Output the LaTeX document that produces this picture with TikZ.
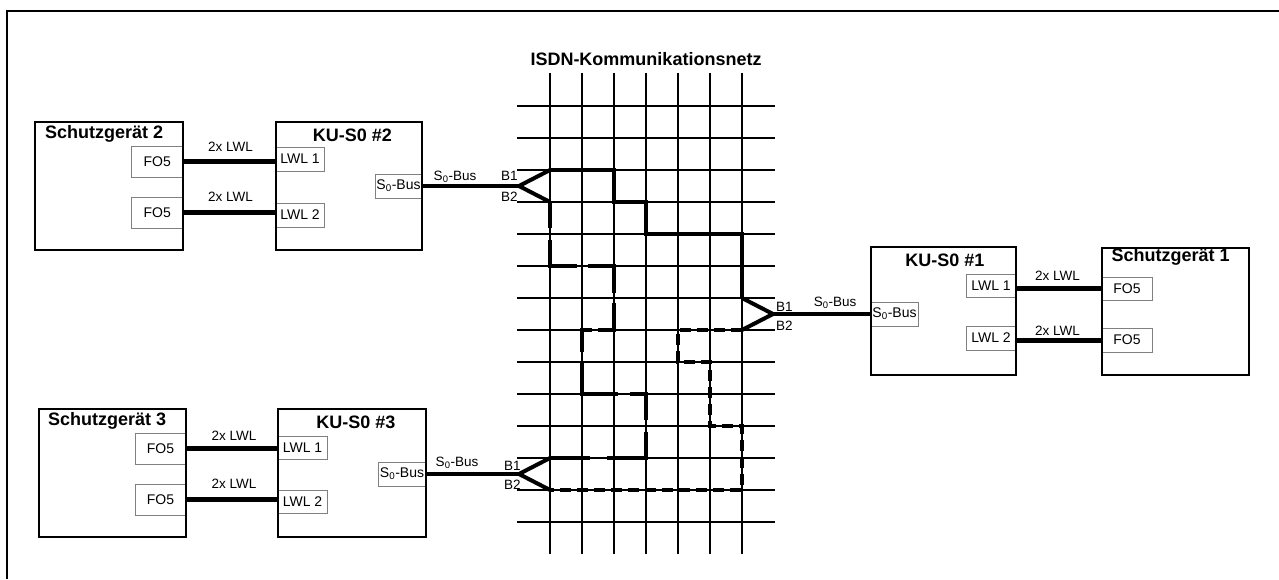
\documentclass[tikz,border=0pt]{standalone}
\usepackage{fontspec}
\setmainfont{Liberation Sans}
\definecolor{portgray}{RGB}{128,128,128}
\tikzset{
  dev/.style={draw=black, line width=1.8pt, inner sep=0pt},
  port/.style={draw=portgray, line width=1pt, inner sep=0pt, font=\fontsize{14}{16}\selectfont},
  ttl/.style={font=\bfseries\fontsize{18}{21}\selectfont, inner sep=0pt},
  lbl/.style={font=\fontsize{13.5}{16}\selectfont, inner sep=0pt},
  lwlline/.style={line width=5pt},
  busline/.style={line width=4pt},
  netline/.style={line width=1.8pt},
  route/.style={line width=4pt, line join=miter},
}
\begin{document}
\begin{tikzpicture}[x=1pt,y=-1pt]
\useasboundingbox (0,0) rectangle (1279,579);
\draw[line width=1.4pt] (7,579) -- (7,11) -- (1279,11);

% network grid
\foreach \j in {0,...,13} \draw[netline] ({517},{106+32*\j}) -- ({775},{106+32*\j});
\foreach \i in {0,...,6} \draw[netline] ({550+32*\i},{73}) -- ({550+32*\i},{554});
\foreach \i in {0,...,6} \foreach \j in {0,...,13} \coordinate (g\i-\j) at ({550+32*\i},{106+32*\j});
\node[ttl, anchor=base] (net) at (646,65) {ISDN-Kommunikationsnetz};

% ports
\node[port, minimum width=51pt, minimum height=31pt] (fo2a) at (157.3,161.5) {FO5};
\node[port, minimum width=51pt, minimum height=31pt] (fo2b) at (157.3,212.5) {FO5};
\node[port, minimum width=48pt, minimum height=24pt] (l1k2) at (300,159) {LWL 1};
\node[port, minimum width=48pt, minimum height=24pt] (l2k2) at (300,215) {LWL 2};
\node[port, minimum width=47pt, minimum height=24pt] (s0k2) at (398.5,186) {S\textsubscript{0}-Bus};

\node[port, minimum width=51pt, minimum height=31pt] (fo3a) at (160.5,448.5) {FO5};
\node[port, minimum width=51pt, minimum height=31pt] (fo3b) at (160.5,499.5) {FO5};
\node[port, minimum width=49pt, minimum height=23pt] (l1k3) at (302.5,447.5) {LWL 1};
\node[port, minimum width=49pt, minimum height=23pt] (l2k3) at (302.5,502) {LWL 2};
\node[port, minimum width=48pt, minimum height=24pt] (s0k3) at (402,474) {S\textsubscript{0}-Bus};

\node[port, minimum width=47pt, minimum height=24pt] (s0k1) at (894.5,314) {S\textsubscript{0}-Bus};
\node[port, minimum width=50pt, minimum height=23pt] (l1k1) at (991,285.5) {LWL 1};
\node[port, minimum width=50pt, minimum height=24pt] (l2k1) at (991,338) {LWL 2};
\node[port, minimum width=50pt, minimum height=23pt] (fo1a) at (1127,288.5) {FO5};
\node[port, minimum width=50pt, minimum height=24pt] (fo1b) at (1127,340) {FO5};

% devices
\node[dev, minimum width=148pt, minimum height=128pt] (sg2) at (109,186) {};
\node[dev, minimum width=146pt, minimum height=128pt] (ku2) at (349,186) {};
\node[dev, minimum width=147pt, minimum height=128pt] (sg3) at (112.5,473) {};
\node[dev, minimum width=148pt, minimum height=128pt] (ku3) at (352,473) {};
\node[dev, minimum width=145pt, minimum height=128pt] (ku1) at (943.5,311) {};
\node[dev, minimum width=147pt, minimum height=127pt] (sg1) at (1175.5,311.5) {};

\node[ttl, anchor=base west] (sg2t) at (45,138.5) {Schutzgerät 2};
\node[ttl, anchor=base] (ku2t) at (352.5,141.5) {KU-S0 \#2};
\node[ttl, anchor=base west] (sg3t) at (48,425) {Schutzgerät 3};
\node[ttl, anchor=base] (ku3t) at (356,428) {KU-S0 \#3};
\node[ttl, anchor=base] (ku1t) at (945,266.5) {KU-S0 \#1};
\node[ttl, anchor=base west] (sg1t) at (1111.5,261.5) {Schutzgerät 1};

% LWL connections
\draw[lwlline] (fo2a.east) -- (fo2a.east -| ku2.west);
\draw[lwlline] (fo2b.east) -- (fo2b.east -| ku2.west);
\draw[lwlline] (fo3a.east) -- (fo3a.east -| ku3.west);
\draw[lwlline] (fo3b.east) -- (fo3b.east -| ku3.west);
\draw[lwlline] (l1k1.east |- fo1a.west) -- (fo1a.west);
\draw[lwlline] (l2k1.east |- fo1b.west) -- (fo1b.west);
\node[lbl, anchor=base] (t2a) at (230.5,151.5) {2x LWL};
\node[lbl, anchor=base] (t2b) at (230.5,201.7) {2x LWL};
\node[lbl, anchor=base] (t3a) at (234,440.7) {2x LWL};
\node[lbl, anchor=base] (t3b) at (234,488.3) {2x LWL};
\node[lbl, anchor=base] (t1a) at (1057.5,280) {2x LWL};
\node[lbl, anchor=base] (t1b) at (1057.5,335) {2x LWL};

% S0 buses and forks
\coordinate (f2) at (519,186);
\coordinate (f3) at (519,474);
\coordinate (f1) at (773,314);
\draw[busline] (s0k2.east) -- (f2);
\draw[busline] (s0k3.east) -- (f3);
\draw[busline] (f1) -- (f1 -| s0k1.west);
\draw[route] (g0-2) -- (f2) -- (g0-3);
\draw[route] (g0-11) -- (f3) -- (g0-12);
\draw[route] (g6-6) -- (f1) -- (g6-7);
\node[lbl, anchor=base] (b2) at (455,180) {S\textsubscript{0}-Bus};
\node[lbl, anchor=base] (b3) at (457,466.5) {S\textsubscript{0}-Bus};
\node[lbl, anchor=base] (b1) at (835,306) {S\textsubscript{0}-Bus};
\node[lbl, anchor=base west] (b21) at (501,180.5) {B1};
\node[lbl, anchor=base west] (b22) at (501,201.5) {B2};
\node[lbl, anchor=base west] (b31) at (504,470) {B1};
\node[lbl, anchor=base west] (b32) at (504,489.3) {B2};
\node[lbl, anchor=base west] (b11) at (776,311.7) {B1};
\node[lbl, anchor=base west] (b12) at (776,330) {B2};

% routes through the network
\draw[route] (g0-2) -- (g2-2) -- (g2-3) -- (g3-3) -- (g3-4) -- (g6-4) -- (g6-6);
\draw[route, dash pattern=on 26pt off 12pt on 53pt off 11pt on 53pt off 10pt on 43pt off 6pt on 32pt off 10pt on 68pt off 12pt on 42pt off 12pt on 65pt off 17pt on 50pt off 10pt]
  (g0-3) -- (g0-5) -- (g2-5) -- (g2-7) -- (g1-7) -- (g1-9) -- (g3-9) -- (g3-11) -- (g0-11);
\draw[route, dash pattern=on 11pt off 6pt]
  (g6-7) -- (g4-7) -- (g4-8) -- (g5-8) -- (g5-10) -- (g6-10) -- (g6-12) -- (g0-12);
\end{tikzpicture}
\end{document}
